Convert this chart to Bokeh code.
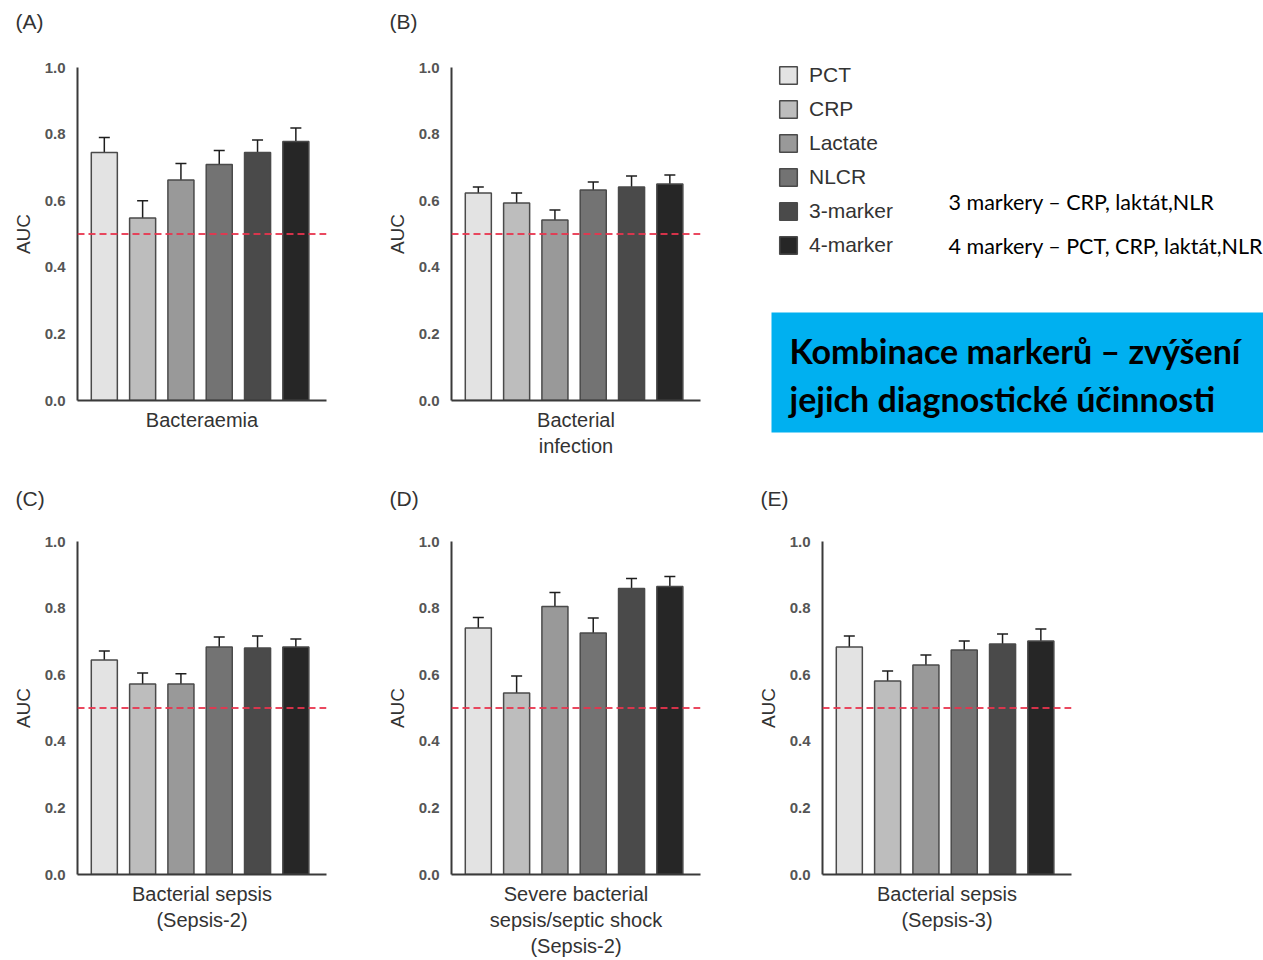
from bokeh.plotting import figure
from bokeh.models import (Range1d, FixedTicker, NumeralTickFormatter, Span, Whisker,
                          ColumnDataSource, Legend, LegendItem, BoxAnnotation, Label)
from bokeh.layouts import column, row
from bokeh.embed import file_html
from bokeh.resources import INLINE

# ---------------- data ----------------
markers = ["PCT", "CRP", "Lactate", "NLCR", "3-marker", "4-marker"]
colors = ["#e3e3e3", "#bdbdbd", "#999999", "#737373", "#4a4a4a", "#262626"]

letters = ["(A)", "(B)", "(C)", "(D)", "(E)"]
outcomes = ["Bacteraemia",
            "Bacterial\ninfection",
            "Bacterial sepsis\n(Sepsis-2)",
            "Severe bacterial\nsepsis/septic shock\n(Sepsis-2)",
            "Bacterial sepsis\n(Sepsis-3)"]

auc_A = [0.745, 0.548, 0.662, 0.709, 0.745, 0.778]
lo_A = [0.710, 0.506, 0.623, 0.668, 0.707, 0.745]
hi_A = [0.790, 0.600, 0.712, 0.751, 0.782, 0.818]

auc_B = [0.623, 0.593, 0.542, 0.632, 0.641, 0.650]
lo_B = [0.590, 0.566, 0.509, 0.605, 0.608, 0.623]
hi_B = [0.641, 0.623, 0.572, 0.656, 0.674, 0.677]

auc_C = [0.644, 0.572, 0.572, 0.683, 0.680, 0.683]
lo_C = [0.611, 0.542, 0.542, 0.650, 0.650, 0.656]
hi_C = [0.671, 0.605, 0.603, 0.713, 0.716, 0.707]

auc_D = [0.740, 0.545, 0.805, 0.725, 0.859, 0.865]
lo_D = [0.707, 0.494, 0.763, 0.689, 0.826, 0.832]
hi_D = [0.772, 0.596, 0.847, 0.770, 0.889, 0.895]

auc_E = [0.683, 0.581, 0.629, 0.674, 0.692, 0.701]
lo_E = [0.653, 0.551, 0.593, 0.653, 0.662, 0.668]
hi_E = [0.716, 0.611, 0.659, 0.701, 0.722, 0.737]

y_ticks = [0.0, 0.2, 0.4, 0.6, 0.8, 1.0]
reference_auc = 0.5

note_3 = "3 markery – CRP, laktát,NLR"
note_4 = "4 markery – PCT, CRP, laktát,NLR"
banner_1 = "Kombinace markerů – zvýšení"
banner_2 = "jejich diagnostické účinnosti"

FONT = "Liberation Sans"
TXT = "#333333"
AXC = "#3a3a3a"
FRAME_H = 334
FRAME_W = 249


def make_panel(letter, xlabel, auc, lo, hi, width, height, left, top, bottom, standoff):
    p = figure(width=width, height=height, x_range=Range1d(-0.7, 5.8), y_range=Range1d(0, 1.0),
               output_backend="svg", toolbar_location=None,
               min_border_left=left, min_border_right=width - left - FRAME_W,
               min_border_top=top, min_border_bottom=bottom)
    p.outline_line_color = None
    p.xgrid.visible = False
    p.ygrid.visible = False
    p.background_fill_color = "white"
    p.border_fill_color = "white"

    src = ColumnDataSource(dict(x=list(range(len(markers))), auc=auc, lo=lo, hi=hi,
                                color=colors, marker=markers))
    p.vbar(x="x", top="auc", width=0.68, fill_color="color", line_color="#4a4a4a",
           line_width=1.5, source=src)
    p.add_layout(Span(location=reference_auc, dimension="width", line_color="#e8344e",
                      line_dash="7 4", line_width=2, line_alpha=0.9))
    w = Whisker(base="x", upper="hi", lower="lo", source=src, line_color="#1e1e1e", line_width=1.5)
    for h in (w.upper_head, w.lower_head):
        h.size = 11
        h.line_color = "#1e1e1e"
        h.line_width = 1.5
    p.add_layout(w)

    # y axis
    ya = p.yaxis[0]
    ya.ticker = FixedTicker(ticks=y_ticks)
    ya.formatter = NumeralTickFormatter(format="0.0")
    ya.major_tick_line_color = None
    ya.minor_tick_line_color = None
    ya.major_tick_out = 0
    ya.major_label_standoff = 12
    ya.major_label_text_font = FONT
    ya.major_label_text_font_size = "15px"
    ya.major_label_text_font_style = "bold"
    ya.major_label_text_color = "#555555"
    ya.axis_line_color = AXC
    ya.axis_line_width = 2
    ya.axis_label = "AUC"
    ya.axis_label_text_font = FONT
    ya.axis_label_text_font_size = "19px"
    ya.axis_label_text_font_style = "normal"
    ya.axis_label_text_color = TXT
    ya.axis_label_standoff = 8

    # x axis
    xa = p.xaxis[0]
    xa.ticker = FixedTicker(ticks=[])
    xa.major_tick_line_color = None
    xa.minor_tick_line_color = None
    xa.major_label_standoff = 0
    xa.major_tick_out = 0
    xa.axis_line_color = AXC
    xa.axis_line_width = 2
    xa.axis_label = xlabel
    xa.axis_label_text_font = FONT
    xa.axis_label_text_font_size = "20px"
    xa.axis_label_text_font_style = "normal"
    xa.axis_label_text_color = TXT
    xa.axis_label_text_line_height = 1.2
    xa.axis_label_standoff = 8

    # panel letter; a blank second line lifts it towards the top of the border area
    p.title.text = letter + "\n "
    p.title.align = "left"
    p.title.vertical_align = "bottom"
    p.title.offset = -62
    p.title.standoff = standoff
    p.title.text_font = FONT
    p.title.text_font_size = "21px"
    p.title.text_line_height = 1.2
    p.title.text_font_style = "normal"
    p.title.text_color = TXT
    return p


W1, W2, W3 = 376, 374, 513
H1, H2 = 480, 480
T2 = 541 - H1

pA = make_panel(letters[0], outcomes[0], auc_A, lo_A, hi_A, W1, H1, 77, 66, H1 - 66 - FRAME_H, 14)
pB = make_panel(letters[1], outcomes[1], auc_B, lo_B, hi_B, W2, H1, 75, 66, H1 - 66 - FRAME_H, 14)
pC = make_panel(letters[2], outcomes[2], auc_C, lo_C, hi_C, W1, H2, 77, T2, H2 - T2 - FRAME_H, 8)
pD = make_panel(letters[3], outcomes[3], auc_D, lo_D, hi_D, W2, H2, 75, T2, H2 - T2 - FRAME_H, 8)
pE = make_panel(letters[4], outcomes[4], auc_E, lo_E, hi_E, W3, H2, 72, T2, H2 - T2 - FRAME_H, 8)

# ---------------- legend + notes panel (frame = whole figure, page pixels) ----------------
pL = figure(width=W3, height=H1, x_range=Range1d(750, 750 + W3), y_range=Range1d(H1, 0),
            x_axis_type=None, y_axis_type=None, output_backend="svg", toolbar_location=None,
            min_border=0, frame_align=False)
pL.outline_line_color = None
pL.grid.visible = False

items = []
for m, c in zip(markers, colors):
    r = pL.vbar(x=[float("nan")], top=[float("nan")], width=1, fill_color=c,
                line_color="#4a4a4a", line_width=1.5)
    items.append(LegendItem(label=m, renderers=[r]))
legend = Legend(items=items, location=(22, 218), padding=5, spacing=10,
                glyph_width=22, glyph_height=22, label_height=22, label_standoff=10,
                label_text_font=FONT, label_text_font_size="21px", label_text_color=TXT,
                border_line_alpha=0, background_fill_alpha=0, margin=0)
pL.add_layout(legend)

pL.add_layout(BoxAnnotation(left=771, right=1300, top=312, bottom=432,
                            fill_color="#00B0F0", fill_alpha=1.0, line_color=None))
for txt, y in ((note_3, 201), (note_4, 245)):
    pL.add_layout(Label(x=948, y=y, text=txt, text_font="Lato", text_font_size="21.5px",
                        text_color="#000000", text_baseline="middle"))
for txt, y in ((banner_1, 350), (banner_2, 398)):
    pL.add_layout(Label(x=789, y=y, text=txt, text_font="Lato", text_font_size="34px",
                        text_font_style="bold", text_color="#000000", text_baseline="middle"))

layout = column(row(pA, pB, pL), row(pC, pD, pE))
open("out.html", "w").write(file_html(layout, INLINE))
